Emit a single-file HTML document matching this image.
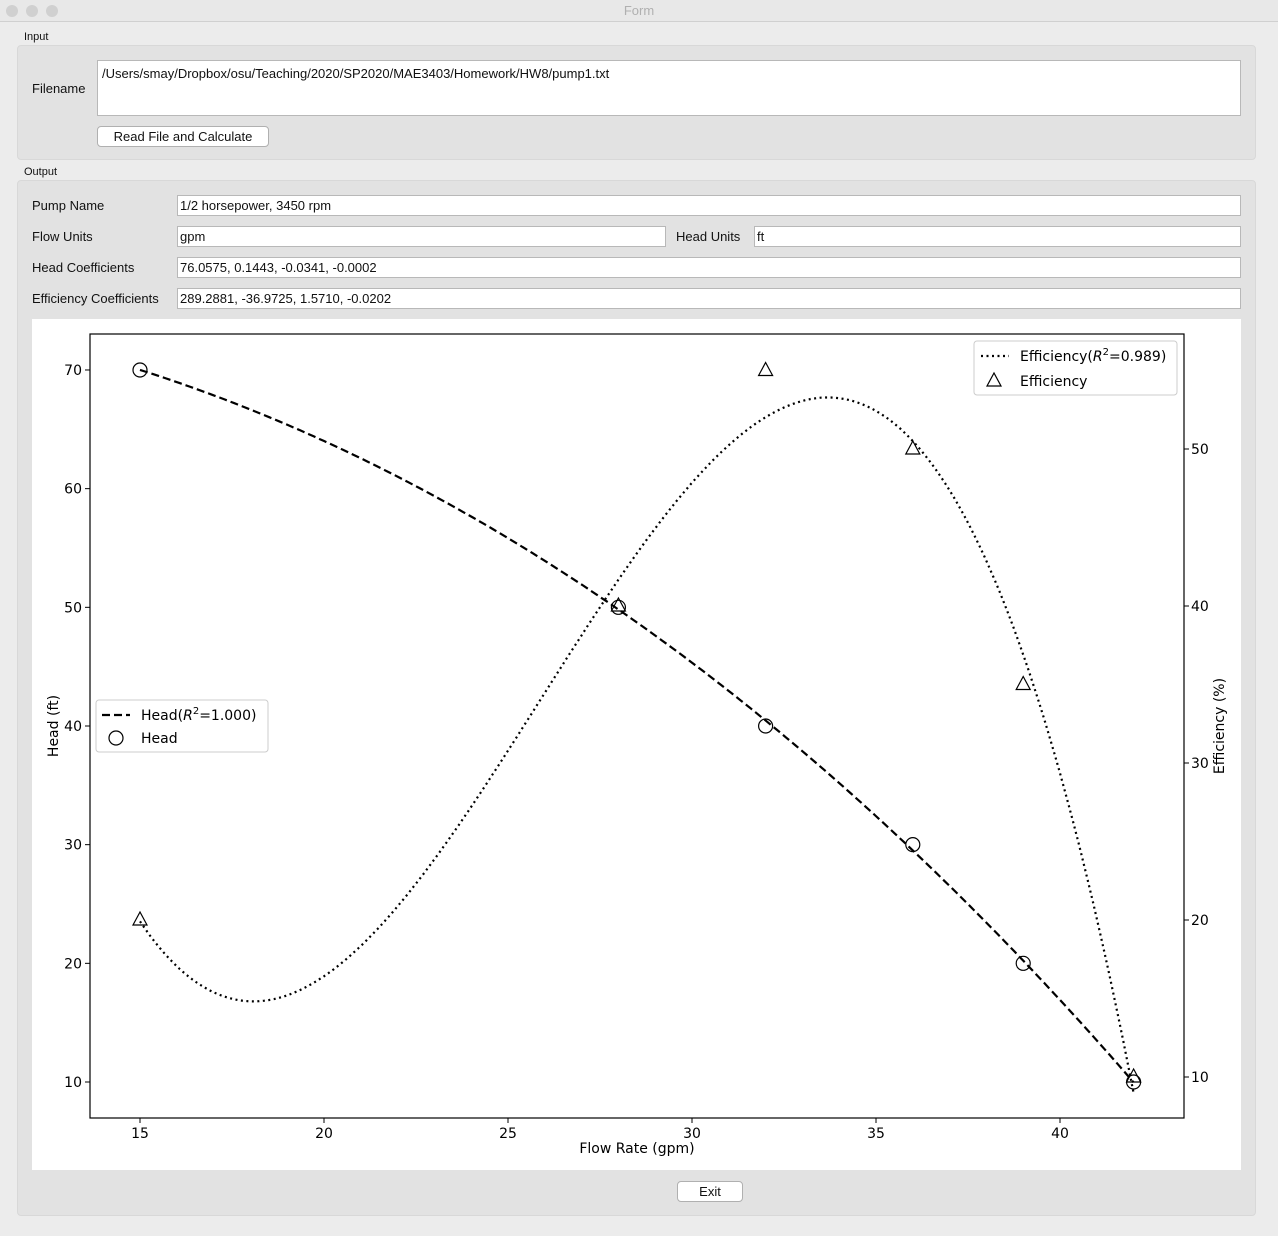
<!DOCTYPE html>
<html><head><meta charset="utf-8"><style>
*{box-sizing:border-box}
body{margin:0;width:1278px;height:1236px;background:#ececec;font-family:"Liberation Sans",sans-serif;font-size:13px;color:#111;position:relative;overflow:hidden}
.abs{position:absolute}
.tb{left:0;top:0;width:1278px;height:22px;background:#e8e8e8;border-bottom:1px solid #d0d0d0;text-align:center;line-height:22px;color:#b0b0b0;font-size:13px}
.dot{width:12px;height:12px;border-radius:6px;background:#d0d0d0;top:5px}
.grp{background:#e2e2e2;border:1px solid #d8d8d8;border-radius:4px}
.inp{background:#fff;border:1px solid #b8b8b8;font-size:13px;padding:2px 2px;white-space:nowrap}
.btn{background:#fff;border:1px solid #b0b0b0;border-radius:4px;text-align:center;font-size:13px}
.lbl{font-size:13px}
</style></head><body>
<div class="abs tb">Form</div>
<div class="abs dot" style="left:6px"></div>
<div class="abs dot" style="left:26px"></div>
<div class="abs dot" style="left:46px"></div>

<div class="abs lbl" style="left:24px;top:31px;font-size:11px">Input</div>
<div class="abs grp" style="left:17px;top:45px;width:1239px;height:115px"></div>
<div class="abs lbl" style="left:32px;top:81px">Filename</div>
<div class="abs inp" style="left:97px;top:60px;width:1144px;height:56px;padding:5px 4px">/Users/smay/Dropbox/osu/Teaching/2020/SP2020/MAE3403/Homework/HW8/pump1.txt</div>
<div class="abs btn" style="left:97px;top:126px;width:172px;height:21px;line-height:19px">Read File and Calculate</div>

<div class="abs lbl" style="left:24px;top:166px;font-size:11px">Output</div>
<div class="abs grp" style="left:17px;top:180px;width:1239px;height:1036px"></div>
<div class="abs lbl" style="left:32px;top:198px">Pump Name</div>
<div class="abs inp" style="left:177px;top:195px;width:1064px;height:21px">1/2 horsepower, 3450 rpm</div>
<div class="abs lbl" style="left:32px;top:229px">Flow Units</div>
<div class="abs inp" style="left:177px;top:226px;width:489px;height:21px">gpm</div>
<div class="abs lbl" style="left:676px;top:229px">Head Units</div>
<div class="abs inp" style="left:754px;top:226px;width:487px;height:21px">ft</div>
<div class="abs lbl" style="left:32px;top:260px">Head Coefficients</div>
<div class="abs inp" style="left:177px;top:257px;width:1064px;height:21px">76.0575, 0.1443, -0.0341, -0.0002</div>
<div class="abs lbl" style="left:32px;top:291px">Efficiency Coefficients</div>
<div class="abs inp" style="left:177px;top:288px;width:1064px;height:21px">289.2881, -36.9725, 1.5710, -0.0202</div>

<svg class="abs" style="left:32px;top:319px" width="1209" height="851" id="chart"></svg>
<div class="abs btn" style="left:677px;top:1181px;width:66px;height:21px;line-height:19px">Exit</div>

<script>
const flowData=[15,28,32,36,39,42];
const headData=[70,50,40,30,20,10];
const effData=[20,40,55,50,35,10];
const xTicks=[15,20,25,30,35,40];
const yTicks=[10,20,30,40,50,60,70];
const y2Ticks=[10,20,30,40,50];

const NS="http://www.w3.org/2000/svg";
const svg=document.getElementById('chart');
const OX=32,OY=319;
const L=90-OX,R=1184-OX,T=334-OY,B=1118-OY;
const X=v=>(140-OX)+(v-15)*36.8;
const Y=v=>(1082-OY)-(v-10)*11.867;
const Y2=v=>(1077-OY)-(v-10)*15.7;
function el(t,a,p){const e=document.createElementNS(NS,t);for(const k in a)e.setAttribute(k,a[k]);(p||svg).appendChild(e);return e;}
function txt(x,y,s,anchor,p){const e=el('text',{x:x,y:y,'text-anchor':anchor||'middle','font-size':14,'font-family':'DejaVu Sans, Liberation Sans, sans-serif'},p);e.textContent=s;return e;}
// least-squares cubic fit
function fit(xs,ys){const n=4;const A=[],b=[];
 for(let i=0;i<n;i++){A.push([]);for(let j=0;j<n;j++){let s=0;xs.forEach(x=>s+=Math.pow(x,i+j));A[i].push(s);}
  let t=0;xs.forEach((x,k)=>t+=Math.pow(x,i)*ys[k]);b.push(t);}
 for(let i=0;i<n;i++){let p=i;for(let r=i+1;r<n;r++)if(Math.abs(A[r][i])>Math.abs(A[p][i]))p=r;
  [A[i],A[p]]=[A[p],A[i]];[b[i],b[p]]=[b[p],b[i]];
  for(let r=i+1;r<n;r++){const f=A[r][i]/A[i][i];for(let c=i;c<n;c++)A[r][c]-=f*A[i][c];b[r]-=f*b[i];}}
 const c=new Array(n).fill(0);for(let i=n-1;i>=0;i--){let s=b[i];for(let j=i+1;j<n;j++)s-=A[i][j]*c[j];c[i]=s/A[i][i];}return c;}
el('rect',{x:0,y:0,width:1209,height:851,fill:'#fff'});
const frame=el('rect',{x:L,y:T,width:R-L,height:B-T,fill:'none',stroke:'#000','stroke-width':1.2});


xTicks.forEach(v=>{const g=el('g',{});
 el('line',{x1:X(v),x2:X(v),y1:B,y2:B+5,stroke:'#000'},g);txt(X(v),B+20,v,'middle',g);});
yTicks.forEach(v=>{const g=el('g',{});
 el('line',{x1:L-5,x2:L,y1:Y(v),y2:Y(v),stroke:'#000'},g);txt(L-8,Y(v)+5,v,'end',g);});
y2Ticks.forEach(v=>{const g=el('g',{});
 el('line',{x1:R,x2:R+5,y1:Y2(v),y2:Y2(v),stroke:'#000'},g);txt(R+7,Y2(v)+5,v,'start',g);});
const xt=txt((L+R)/2,B+35,'Flow Rate (gpm)');
const yt=txt(0,0,'Head (ft)');yt.setAttribute('transform','translate(26,'+((T+B)/2)+') rotate(-90)');

const y2t=txt(0,0,'Efficiency (%)');y2t.setAttribute('transform','translate(1192,'+((T+B)/2)+') rotate(-90)');

const poly=(c,x)=>c[0]+c[1]*x+c[2]*x*x+c[3]*x*x*x;
function curve(ys,Yf,dash,name){const c=fit(flowData,ys);let d='';const x0=flowData[0],x1=flowData[flowData.length-1];
 for(let i=0;i<=200;i++){const x=x0+(x1-x0)*i/200;d+=(i?'L':'M')+X(x).toFixed(1)+','+Yf(poly(c,x)).toFixed(1);}
 const p=el('path',{d:d,fill:'none',stroke:'#000','stroke-width':2.2,'stroke-dasharray':dash});
 }
curve(headData,Y,'8,4','head-fit-line');
curve(effData,Y2,'2,3.5','efficiency-fit-line');
flowData.forEach((f,i)=>{const c=el('circle',{cx:X(f),cy:Y(headData[i]),r:7,fill:'none',stroke:'#000','stroke-width':1.2});
 
 const x=X(f),y=Y2(effData[i]);
 const t=el('polygon',{points:`${x},${y-8} ${x-7},${y+5} ${x+7},${y+5}`,fill:'none',stroke:'#000','stroke-width':1.2});
 });
const lg1=el('g',{});
el('rect',{x:942,y:22,width:203,height:54,rx:3,fill:'#fff',stroke:'#ccc'},lg1);
el('line',{x1:949,x2:977,y1:37,y2:37,stroke:'#000','stroke-width':2.2,'stroke-dasharray':'2,3.5'},lg1);
const e1=txt(988,42,'','start',lg1);e1.innerHTML='Efficiency(<tspan font-style="italic">R</tspan><tspan dy="-6" font-size="10">2</tspan><tspan dy="6">=0.989)</tspan>';
el('polygon',{points:'962,54 955,67 969,67',fill:'none',stroke:'#000','stroke-width':1.2},lg1);
txt(988,67,'Efficiency','start',lg1);
const lg2=el('g',{});
el('rect',{x:64,y:381,width:172,height:52,rx:3,fill:'#fff',stroke:'#ccc'},lg2);
el('line',{x1:70,x2:98,y1:396,y2:396,stroke:'#000','stroke-width':2.2,'stroke-dasharray':'8,4'},lg2);
const h1=txt(109,401,'','start',lg2);h1.innerHTML='Head(<tspan font-style="italic">R</tspan><tspan dy="-6" font-size="10">2</tspan><tspan dy="6">=1.000)</tspan>';
el('circle',{cx:84,cy:419,r:7,fill:'none',stroke:'#000','stroke-width':1.2},lg2);
txt(109,424,'Head','start',lg2);
</script>
</body></html>
